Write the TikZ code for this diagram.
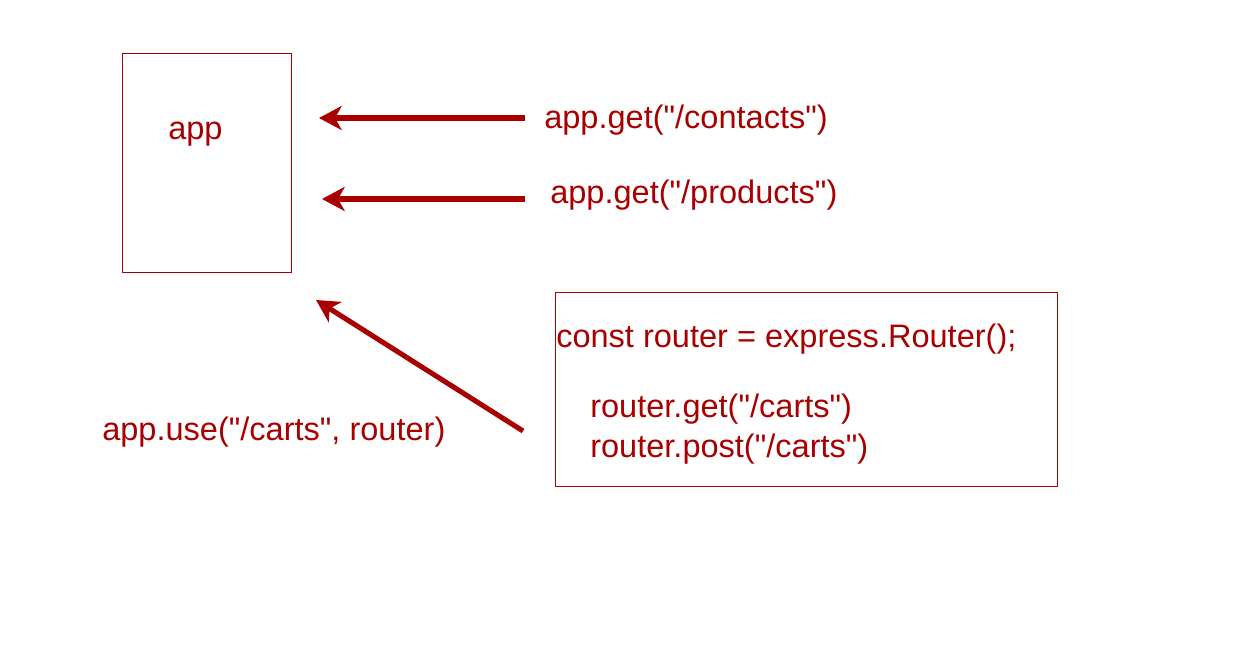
\documentclass[tikz,border=0pt]{standalone}
\usepackage{fontspec}
\setmainfont{Liberation Sans}[Ligatures=TeXOff]
\usepackage{xcolor}
\usepackage{tikz}
\usetikzlibrary{arrows.meta}

\definecolor{routered}{HTML}{A80000}

\begin{document}
\begin{tikzpicture}[x=0.75pt, y=-0.75pt,
  txt/.style={anchor=west, inner sep=0pt, text=routered, font=\fontsize{24.4pt}{29pt}\selectfont},
  boxline/.style={draw=routered, line width=1.1pt},
  callarrow/.style={draw=routered, line width=3.8pt, -{Stealth[length=17pt, width=18pt, inset=5pt]}}]
\useasboundingbox (0, 0) rectangle (1247, 668);
\node[boxline, minimum width=169*0.75pt, minimum height=219*0.75pt, anchor=north west] (app) at (122, 53) {};
\node[boxline, minimum width=502*0.75pt, minimum height=194*0.75pt, anchor=north west] (router) at (555, 292) {};
\node[txt] (applabel) at (168, 134) {app};
\node[txt] (getcontacts) at (544, 120) {app.get("/contacts")};
\node[txt] (getproducts) at (550, 195) {app.get("/products")};
\node[txt] (routerdef) at (556, 339) {const router = express.Router();};
\node[txt] (routerget) at (590, 409) {router.get("/carts")};
\node[txt] (routerpost) at (590, 449) {router.post("/carts")};
\node[txt] (appuse) at (102, 432) {app.use("/carts", router)};
% arrows into app
\coordinate (tipcontacts) at (319, 118);
\coordinate (tipproducts) at (322, 199);
\coordinate (tiprouter) at (316, 300);
\coordinate (startrouter) at (523, 431);
\draw[callarrow] (getcontacts.west) ++(-19, -2) -- (tipcontacts);
\draw[callarrow] (getproducts.west) ++(-25, 4) -- (tipproducts);
\draw[callarrow] (startrouter) -- (tiprouter);
\end{tikzpicture}
\end{document}
